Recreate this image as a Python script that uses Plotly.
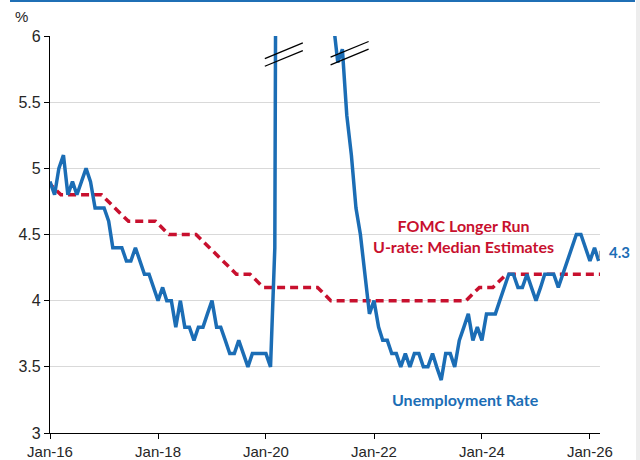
import pandas as pd
import plotly.graph_objects as go

# ---------------- data ----------------
u_start = "2016-01-01"
u_rate = [
    4.9, 4.8, 5.0, 5.1, 4.8, 4.9, 4.8, 4.9, 5.0, 4.9, 4.7, 4.7,   # 2016
    4.7, 4.6, 4.4, 4.4, 4.4, 4.3, 4.3, 4.4, 4.3, 4.2, 4.2, 4.1,   # 2017
    4.0, 4.1, 4.0, 4.0, 3.8, 4.0, 3.8, 3.8, 3.7, 3.8, 3.8, 3.9,   # 2018
    4.0, 3.8, 3.8, 3.7, 3.6, 3.6, 3.7, 3.6, 3.5, 3.6, 3.6, 3.6,   # 2019
    3.6, 3.5, 4.4, 14.8, 13.2, 11.0, 10.2, 8.4, 7.8, 6.8, 6.7, 6.7,  # 2020
    6.4, 6.2, 6.1, 6.1, 5.8, 5.9, 5.4, 5.1, 4.7, 4.5, 4.2, 3.9,   # 2021
    4.0, 3.8, 3.7, 3.7, 3.6, 3.6, 3.5, 3.6, 3.5, 3.6, 3.6, 3.5,   # 2022
    3.5, 3.6, 3.5, 3.4, 3.6, 3.6, 3.5, 3.7, 3.8, 3.9, 3.7, 3.8,   # 2023
    3.7, 3.9, 3.9, 3.9, 4.0, 4.1, 4.2, 4.2, 4.1, 4.1, 4.2, 4.1,   # 2024
    4.0, 4.1, 4.2, 4.2, 4.2, 4.1, 4.2, 4.3, 4.4, 4.5, 4.5, 4.4,   # 2025
    4.3, 4.4, 4.3,                                                # 2026
]
u_dates = pd.date_range(u_start, periods=len(u_rate), freq="MS")

fomc_dates = [
    "2015-12-15", "2016-03-15", "2016-06-15", "2016-09-15", "2016-12-15",
    "2017-03-15", "2017-06-15", "2017-09-15", "2017-12-15",
    "2018-03-15", "2018-06-15", "2018-09-15", "2018-12-15",
    "2019-03-15", "2019-06-15", "2019-09-15", "2019-12-15",
    "2020-06-15", "2020-09-15", "2020-12-15",
    "2021-03-15", "2021-06-15", "2021-09-15", "2021-12-15",
    "2022-03-15", "2022-06-15", "2022-09-15", "2022-12-15",
    "2023-03-15", "2023-06-15", "2023-09-15", "2023-12-15",
    "2024-03-15", "2024-06-15", "2024-09-15", "2024-12-15",
    "2025-03-15", "2025-06-15", "2025-09-15", "2025-12-15",
    "2026-03-15",
]
fomc_median = [
    4.9, 4.8, 4.8, 4.8, 4.8,
    4.7, 4.6, 4.6, 4.6,
    4.5, 4.5, 4.5, 4.4,
    4.3, 4.2, 4.2, 4.1,
    4.1, 4.1, 4.1,
    4.0, 4.0, 4.0, 4.0,
    4.0, 4.0, 4.0, 4.0,
    4.0, 4.0, 4.0, 4.1,
    4.1, 4.2, 4.2, 4.2,
    4.2, 4.2, 4.2, 4.2,
    4.2,
]

y_ticks = [3, 3.5, 4, 4.5, 5, 5.5, 6]
y_ticktext = ["3", "3.5", "4", "4.5", "5", "5.5", "6"]
x_ticks = ["2016-01-01", "2018-01-01", "2020-01-01", "2022-01-01", "2024-01-01", "2026-01-01"]
x_ticktext = ["Jan-16", "Jan-18", "Jan-20", "Jan-22", "Jan-24", "Jan-26"]

# axis break markers (anchor dates / values)
breaks = [("2020-05-01", 5.86), ("2021-07-20", 5.87)]

BLUE = "#1B6DB5"
RED = "#C8102E"

fig = go.Figure()
fig.add_trace(go.Scatter(
    x=pd.to_datetime(fomc_dates), y=fomc_median, mode="lines",
    line=dict(color=RED, width=3.5, dash="8px,5px"), hoverinfo="skip"))
fig.add_trace(go.Scatter(
    x=u_dates, y=u_rate, mode="lines",
    line=dict(color=BLUE, width=3.5), hoverinfo="skip"))

shapes = []
for bx, by in breaks:
    for (x0, y0, x1, y1) in [(-19, -4, 19, 11.7), (-19, -11.7, 19, 4)]:
        shapes.append(dict(type="line", xref="x", yref="y",
                           xsizemode="pixel", ysizemode="pixel",
                           xanchor=bx, yanchor=by,
                           x0=x0, y0=y0, x1=x1, y1=y1,
                           line=dict(color="black", width=1.3)))
# leader line to last-value label
last_x = u_dates[-1]
last_y = u_rate[-1]
for (x0, y0, x1, y1) in [(1, 2, 1, 10), (1, 10, 7, 10)]:
    shapes.append(dict(type="line", xref="x", yref="y",
                       xsizemode="pixel", ysizemode="pixel",
                       xanchor=last_x, yanchor=last_y,
                       x0=x0, y0=y0, x1=x1, y1=y1,
                       line=dict(color="#A6A6A6", width=1.5)))
# top blue rule and right grey strip
shapes.append(dict(type="line", xref="paper", yref="paper",
                   x0=-0.0727, x1=1.0636, y0=1.0882, y1=1.0882,
                   line=dict(color="#1F6FB5", width=2)))
shapes.append(dict(type="rect", xref="paper", yref="paper",
                   x0=1.0655, x1=1.08, y0=-0.1, y1=1.1,
                   fillcolor="#EDEDED", line=dict(width=0)))

annotations = [
    dict(text="%", xref="paper", yref="paper", x=-0.0515, y=1.0486,
         showarrow=False, font=dict(family="Liberation Sans", size=15, color="#262626"),
         xanchor="center", yanchor="middle"),
    dict(text="FOMC Longer Run<br>U-rate: Median Estimates", xref="paper", yref="paper",
         x=0.7527, y=0.496, showarrow=False, align="center",
         font=dict(family="Lato", size=16, color=RED, weight="bold"),
         xanchor="center", yanchor="middle"),
    dict(text="Unemployment Rate", xref="paper", yref="paper",
         x=0.755, y=0.0849, showarrow=False,
         font=dict(family="Lato", size=16, color=BLUE, weight="bold"),
         xanchor="center", yanchor="middle"),
    dict(text="4.3", xref="paper", yref="paper",
         x=1.0358, y=0.4567, showarrow=False,
         font=dict(family="Lato", size=15, color=BLUE, weight="bold"),
         xanchor="center", yanchor="middle"),
]

fig.update_layout(
    width=640, height=460,
    margin=dict(l=50, r=40, t=36, b=27),
    paper_bgcolor="white", plot_bgcolor="white",
    showlegend=False,
    shapes=shapes, annotations=annotations,
    font=dict(family="Liberation Sans", size=16, color="#262626"),
    xaxis=dict(range=["2016-01-01", "2026-03-10"], tickvals=x_ticks, ticktext=x_ticktext,
               showgrid=False, showline=True, linecolor="black", linewidth=1.3,
               ticks="outside", ticklen=5, tickcolor="black", tickwidth=1.3,
               zeroline=False, automargin=False, tickfont=dict(size=15)),
    yaxis=dict(range=[3, 6], tickvals=y_ticks, ticktext=y_ticktext,
               showgrid=True, gridcolor="#D9D9D9", gridwidth=1.3,
               showline=True, linecolor="black", linewidth=1.3,
               ticks="outside", ticklen=5, tickcolor="black", tickwidth=1.3,
               zeroline=False, automargin=False),
)

fig.write_html("out.html", config={"displayModeBar": False},
               post_script="document.body.style.margin='0px';")
